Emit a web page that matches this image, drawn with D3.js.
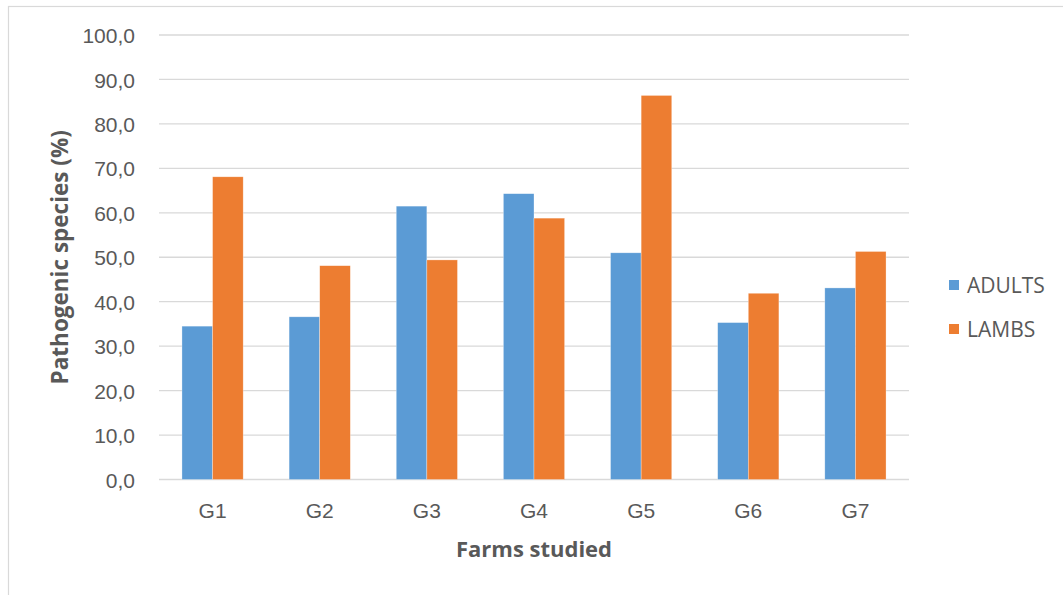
<!DOCTYPE html>
<html>
<head>
<meta charset="utf-8">
<script src="https://cdn.jsdelivr.net/npm/d3@7"></script>
<style>
  html, body { margin: 0; padding: 0; background: #fff; }
  svg { display: block; font-family: "Open Sans", "Noto Sans", sans-serif; }
</style>
</head>
<body>
<svg id="chart" width="1063" height="595"></svg>
<script>
// Farms and the share of pathogenic species found in each group
const farms = ["G1", "G2", "G3", "G4", "G5", "G6", "G7"];
const seriesNames = ["ADULTS", "LAMBS"];
const adults = [34.5, 36.6, 61.5, 64.3, 51.0, 35.3, 43.1];
const lambs = [68.1, 48.1, 49.4, 58.8, 86.4, 41.9, 51.3];
const yTicks = [0, 10, 20, 30, 40, 50, 60, 70, 80, 90, 100];
const colors = ["#5b9bd5", "#ed7d31"];

const svg = d3.select("#chart");
const plot = { left: 159, right: 909, top: 35, bottom: 479.5 };

// Chart frame
svg.append("rect")
  .attr("x", 8.5).attr("y", 6.5)
  .attr("width", 1063).attr("height", 600)
  .attr("fill", "#fff")
  .attr("stroke", "#d9d9d9").attr("stroke-width", 1.2);

const x = d3.scaleBand().domain(farms).range([plot.left, plot.right]).paddingInner(0).paddingOuter(0);
const y = d3.scaleLinear().domain([0, 100]).range([plot.bottom, plot.top]);

// Bar width follows a 150% gap between groups
const barW = x.bandwidth() / 3.5;
const xs = d3.scaleBand().domain(seriesNames).range([0, barW * 2]);

const fmt = v => d3.format(".1f")(v).replace(".", ",");

// Gridlines
svg.append("g")
  .selectAll("line")
  .data(yTicks)
  .join("line")
  .attr("x1", plot.left).attr("x2", plot.right)
  .attr("y1", d => y(d)).attr("y2", d => y(d))
  .attr("stroke", "#d9d9d9").attr("stroke-width", 1.3);

// Y axis labels
const yAxis = d3.axisLeft(y).tickValues(yTicks).tickFormat(fmt).tickSize(0).tickPadding(0);
const yg = svg.append("g").attr("transform", `translate(${plot.left - 24},0)`).call(yAxis);
yg.select(".domain").remove();
yg.selectAll("text")
  .attr("fill", "#595959")
  .style("font-size", "21px")
  .attr("dy", "0.36em");

// X axis labels
const xAxis = d3.axisBottom(x).tickSize(0).tickPadding(0);
const xg = svg.append("g").attr("transform", `translate(0,${plot.bottom + 38})`).call(xAxis);
xg.select(".domain").remove();
xg.selectAll("text")
  .attr("fill", "#595959")
  .style("font-size", "21px")
  .attr("dy", "0");

// Bars
const data = farms.map((f, i) => ({ farm: f, values: [adults[i], lambs[i]] }));
const groups = svg.append("g")
  .selectAll("g")
  .data(data)
  .join("g")
  .attr("transform", d => `translate(${x(d.farm) + (x.bandwidth() - barW * 2) / 2},0)`);

groups.selectAll("rect")
  .data(d => d.values.map((v, k) => ({ key: seriesNames[k], v, k })))
  .join("rect")
  .attr("x", d => xs(d.key))
  .attr("width", xs.bandwidth())
  .attr("y", d => y(d.v))
  .attr("height", d => y(0) - y(d.v))
  .attr("fill", d => colors[d.k])
  .attr("stroke", "#fff")
  .attr("stroke-opacity", 0.5)
  .attr("stroke-width", 0.6);

// Axis titles
svg.append("text")
  .attr("x", (plot.left + plot.right) / 2)
  .attr("y", 557)
  .attr("text-anchor", "middle")
  .attr("fill", "#595959")
  .style("font-size", "22px")
  .style("font-weight", "bold")
  .text("Farms studied");

svg.append("text")
  .attr("transform", `translate(68,${(plot.top + plot.bottom) / 2}) rotate(-90)`)
  .attr("text-anchor", "middle")
  .attr("fill", "#595959")
  .style("font-size", "22.5px")
  .style("font-weight", "bold")
  .text("Pathogenic species (%)");

// Legend
const legend = svg.append("g")
  .selectAll("g")
  .data(seriesNames)
  .join("g")
  .attr("transform", (d, i) => `translate(949,${280 + i * 44})`);

legend.append("rect")
  .attr("width", 10).attr("height", 10)
  .attr("fill", (d, i) => colors[i]);

legend.append("text")
  .attr("x", 18).attr("y", 5)
  .attr("dy", "0.36em")
  .attr("fill", "#595959")
  .style("font-size", "21px")
  .text(d => d);
</script>
</body>
</html>
